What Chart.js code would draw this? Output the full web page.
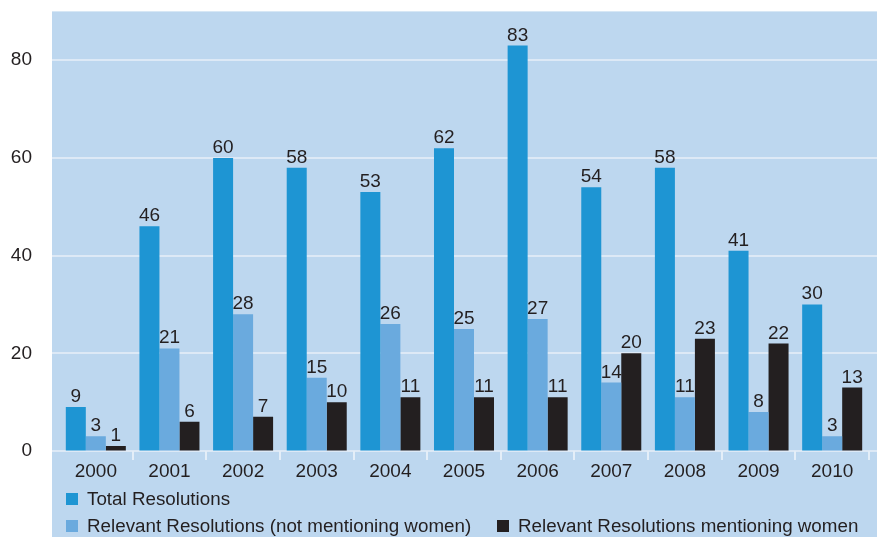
<!DOCTYPE html>
<html>
<head>
<meta charset="utf-8">
<script src="https://cdn.jsdelivr.net/npm/chart.js@4/dist/chart.umd.min.js"></script>
<style>
  html, body { margin: 0; padding: 0; background: #fff; }
  #wrap { position: relative; width: 877px; height: 537px; }
  #legend { position: absolute; left: 0; top: 0; width: 877px; height: 537px; pointer-events: none;
            font-family: 'Liberation Sans', Arial, sans-serif; font-size: 18.8px; color: #231f20; }
  .item { position: absolute; display: flex; align-items: center; height: 20px; white-space: nowrap; }
  .sw { width: 12px; height: 12px; margin-right: 9px; }
</style>
</head>
<body>
<div id="wrap">
  <canvas id="myChart" width="877" height="537"></canvas>
  <div id="legend"></div>
</div>
<script>
// data
const years = ['2000', '2001', '2002', '2003', '2004', '2005', '2006', '2007', '2008', '2009', '2010'];
const totalResolutions = [9, 46, 60, 58, 53, 62, 83, 54, 58, 41, 30];
const notMentioningWomen = [3, 21, 28, 15, 26, 25, 27, 14, 11, 8, 3];
const mentioningWomen = [1, 6, 7, 10, 11, 11, 11, 20, 23, 22, 13];
const yTicks = [0, 20, 40, 60, 80];

const textColor = '#231f20';
const panelColor = '#bdd7ef';
const gridColor = '#dde9f6';
const fontFamily = "'Liberation Sans', Arial, sans-serif";

// background panel, horizontal grid lines and value labels
const panelPlugin = {
    id: 'panel',
    beforeDraw(chart) {
        const ctx = chart.ctx;
        const area = chart.chartArea;
        const y = chart.scales.y;
        ctx.save();
        ctx.fillStyle = panelColor;
        ctx.fillRect(52, area.top, chart.width - 52, chart.height - area.top);
        ctx.strokeStyle = gridColor;
        ctx.lineWidth = 2;
        yTicks.forEach(function (v) {
            var py = Math.round(y.getPixelForValue(v));
            ctx.beginPath();
            ctx.moveTo(52, py);
            ctx.lineTo(chart.width, py);
            ctx.stroke();
        });
        ctx.restore();
    },
    afterDatasetsDraw(chart) {
        const ctx = chart.ctx;
        ctx.save();
        ctx.fillStyle = textColor;
        ctx.font = '19px ' + fontFamily;
        ctx.textAlign = 'center';
        ctx.textBaseline = 'alphabetic';
        chart.data.datasets.forEach(function (ds, i) {
            chart.getDatasetMeta(i).data.forEach(function (bar, j) {
                ctx.fillText(String(ds.data[j]), bar.x, bar.y - 5);
            });
        });
        ctx.restore();
    }
};

const ctx = document.getElementById('myChart');
const myChart = new Chart(ctx, {
    type: 'bar',
    data: {
        labels: years,
        datasets: [{
            label: 'Total Resolutions',
            data: totalResolutions,
            backgroundColor: '#1e95d3'
        },
        {
            label: 'Relevant Resolutions (not mentioning women)',
            data: notMentioningWomen,
            backgroundColor: '#6aaade'
        },
        {
            label: 'Relevant Resolutions mentioning women',
            data: mentioningWomen,
            backgroundColor: '#231f20'
        }]
    },
    options: {
        responsive: false,
        animation: false,
        devicePixelRatio: 1,
        layout: { padding: { top: 9, right: 8, left: 0, bottom: 0 } },
        datasets: { bar: { categoryPercentage: 0.815, barPercentage: 1, borderWidth: 0 } },
        plugins: { legend: { display: false }, tooltip: { enabled: false } },
        scales: {
            x: {
                offset: true,
                border: { display: false },
                grid: {
                    drawOnChartArea: false,
                    drawTicks: true,
                    tickLength: 9,
                    lineWidth: 2,
                    offset: true,
                    color: function (c) {
                        return (c.index === 0 || c.index >= years.length) ? 'rgba(0,0,0,0)' : '#e4eef8';
                    }
                },
                ticks: { color: textColor, font: { family: fontFamily, size: 19 }, padding: 0, maxRotation: 0 },
                afterFit: function (scale) { scale.height = 86; }
            },
            y: {
                min: 0,
                max: 90,
                border: { display: false },
                grid: { display: true, drawOnChartArea: false, drawTicks: true, tickLength: 27, color: 'rgba(0,0,0,0)' },
                ticks: {
                    stepSize: 20,
                    color: textColor,
                    font: { family: fontFamily, size: 19 },
                    padding: 0,
                    callback: function (v) { return yTicks.indexOf(v) >= 0 ? v : null; }
                },
                afterFit: function (scale) { scale.width = 59; }
            }
        }
    },
    plugins: [panelPlugin]
});

// legend as html text, laid out like the picture
const legendSpots = [[66, 489], [66, 516], [497, 516]];
const legendBox = document.getElementById('legend');
myChart.data.datasets.forEach(function (ds, i) {
    var item = document.createElement('div');
    item.className = 'item';
    item.style.left = legendSpots[i][0] + 'px';
    item.style.top = legendSpots[i][1] + 'px';
    var sw = document.createElement('span');
    sw.className = 'sw';
    sw.style.background = ds.backgroundColor;
    var txt = document.createElement('span');
    txt.textContent = ds.label;
    item.appendChild(sw);
    item.appendChild(txt);
    legendBox.appendChild(item);
});
</script>
</body>
</html>
